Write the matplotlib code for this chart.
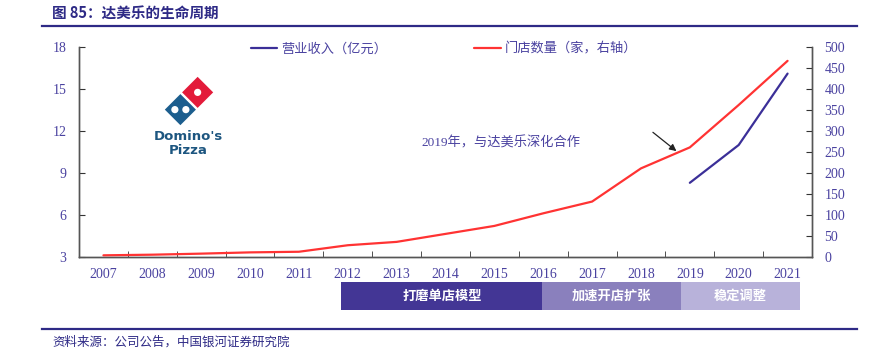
import numpy as np
import matplotlib
matplotlib.use('Agg')
import matplotlib.pyplot as plt
from matplotlib.patches import Polygon, Circle, Rectangle
import matplotlib.transforms as mtransforms

#Data
years = ['2007', '2008', '2009', '2010', '2011', '2012', '2013', '2014',
         '2015', '2016', '2017', '2018', '2019', '2020', '2021']
revenue = [np.nan] * 12 + [8.3, 11.0, 16.1]          # 营业收入 (亿元), left axis
stores = [4, 5.5, 8, 11, 12.5, 28, 36, 55, 74, 104, 132, 211, 261, 362, 467]  # 门店数量, right axis

#Phases under the x axis: label, start, end (in category positions)
phase_names = ['打磨单店模型', '加速开店扩张', '稳定调整']
phase_start = [4.87, 8.98, 11.81]
phase_end = [8.98, 11.81, 14.26]
phase_colors = ['#433695', '#8a80bd', '#b8b2da']

txt_col = '#4a42a0'
blue = '#3b2f98'
red = '#ff3333'
navy = '#2e2a86'

plt.rcParams['font.family'] = ['Liberation Serif', 'Noto Sans CJK SC']
cjk = ['Noto Sans CJK SC', 'DejaVu Sans']

fig = plt.figure(figsize=(8.74, 3.53), dpi=100)
W, H = 874, 353

ax = fig.add_axes([79 / W, 1 - 257 / H, 733 / W, 210 / H])
ax2 = ax.twinx()
x = np.arange(len(years))

l1, = ax.plot(x, revenue, color=blue, lw=1.6, solid_capstyle='round')
l2, = ax2.plot(x, stores, color=red, lw=1.6, solid_capstyle='round')

ax.set_xlim(-0.5, len(years) - 0.5)
ax.set_ylim(3, 18)
ax.set_yticks([3, 6, 9, 12, 15, 18])
ax2.set_ylim(0, 500)
ax2.set_yticks(range(0, 501, 50))
ax.set_xticks(x)
ax.set_xticklabels(years)
ax.set_xticks(np.arange(0.5, len(years) - 1, 1), minor=True)

for a in (ax, ax2):
    a.spines['top'].set_visible(False)
    for s in ('left', 'right', 'bottom'):
        a.spines[s].set_color('#555555')
        a.spines[s].set_linewidth(1.0)
ax.tick_params(axis='x', which='major', length=0, pad=8, labelsize=10, labelcolor=txt_col)
ax.tick_params(axis='x', which='minor', direction='in', length=4, color='#333333')
ax.tick_params(axis='y', direction='in', length=4, pad=9, labelsize=10, labelcolor=txt_col, color='#333333')
ax2.tick_params(axis='y', direction='in', length=4, pad=9, labelsize=10, labelcolor=txt_col, color='#333333')

#Legend
leg = fig.legend([l1, l2], ['营业收入（亿元）', '门店数量（家，右轴）'], loc='center left',
                 bbox_to_anchor=(251 / W, 1 - 49 / H), ncol=2, frameon=False,
                 handlelength=2.0, handletextpad=0.3, columnspacing=6.6,
                 borderpad=0, borderaxespad=0, prop={'family': cjk, 'size': 9.5})
for t in leg.get_texts():
    t.set_color(txt_col)

#Annotation
ax2.text(6.5, 271, '2019年，与达美乐深化合作', color=txt_col, fontsize=9.5,
         va='center', ha='left', family=['Liberation Serif', 'Noto Sans CJK SC'])
ax2.annotate('', xy=(11.77, 248), xytext=(11.2, 301),
             arrowprops=dict(arrowstyle='-|>', color='#222222', lw=0.9, mutation_scale=10))

#Phase bars under the axis
trans = mtransforms.blended_transform_factory(ax.transData, fig.transFigure)
for name, s, e, c in zip(phase_names, phase_start, phase_end, phase_colors):
    fig.patches.append(Rectangle((s, 1 - 310 / H), e - s, 28 / H, transform=trans,
                                 facecolor=c, edgecolor='none'))
    fig.text((s + e) / 2, 1 - 296 / H, name, transform=trans, ha='center', va='center',
             color='white', fontsize=9.5, fontweight='bold', family=cjk)

#Overlay in pixel coords for title, rules, logo
ov = fig.add_axes([0, 0, 1, 1], zorder=5)
ov.patch.set_alpha(0)
ov.set_xlim(0, W)
ov.set_ylim(H, 0)
ov.axis('off')

ov.text(52, 13, '图 85：达美乐的生命周期', fontsize=10.5, fontweight='bold', color=navy,
        va='center', ha='left', family=cjk)
ov.plot([42, 857], [25.5, 25.5], color=navy, lw=1.6)
ov.plot([42, 857], [328.5, 328.5], color=navy, lw=1.6)
ov.text(52, 342, '资料来源：公司公告，中国银河证券研究院', fontsize=9, color=navy,
        va='center', ha='left', family=cjk)

#Domino's logo
cx, cy = 189, 101
u = np.array([1, -1]) / np.sqrt(2)
v = np.array([1, 1]) / np.sqrt(2)
side = 22
for k, col in ((-1, '#1c5e8e'), (1, '#e31b3a')):
    c = np.array([cx, cy]) + k * u * (side / 2 + 1.2)
    pts = [c + u * side / 2 + v * side / 2, c + u * side / 2 - v * side / 2,
           c - u * side / 2 - v * side / 2, c - u * side / 2 + v * side / 2]
    ov.add_patch(Polygon(pts, closed=True, facecolor=col, edgecolor='none', joinstyle='round'))
    if k == 1:
        ov.add_patch(Circle(c, 3.6, facecolor='white', edgecolor='none'))
    else:
        for d in (-1, 1):
            ov.add_patch(Circle(c + d * np.array([5.5, 0]), 3.6, facecolor='white', edgecolor='none'))
ov.text(188, 137, "Domino's", fontsize=9.5, fontweight='bold', color='#1d5680',
        ha='center', va='center', family='DejaVu Sans')
ov.text(188, 150, 'Pizza', fontsize=9.5, fontweight='bold', color='#1d5680',
        ha='center', va='center', family='DejaVu Sans')

fig.savefig('out.png', dpi=100)
